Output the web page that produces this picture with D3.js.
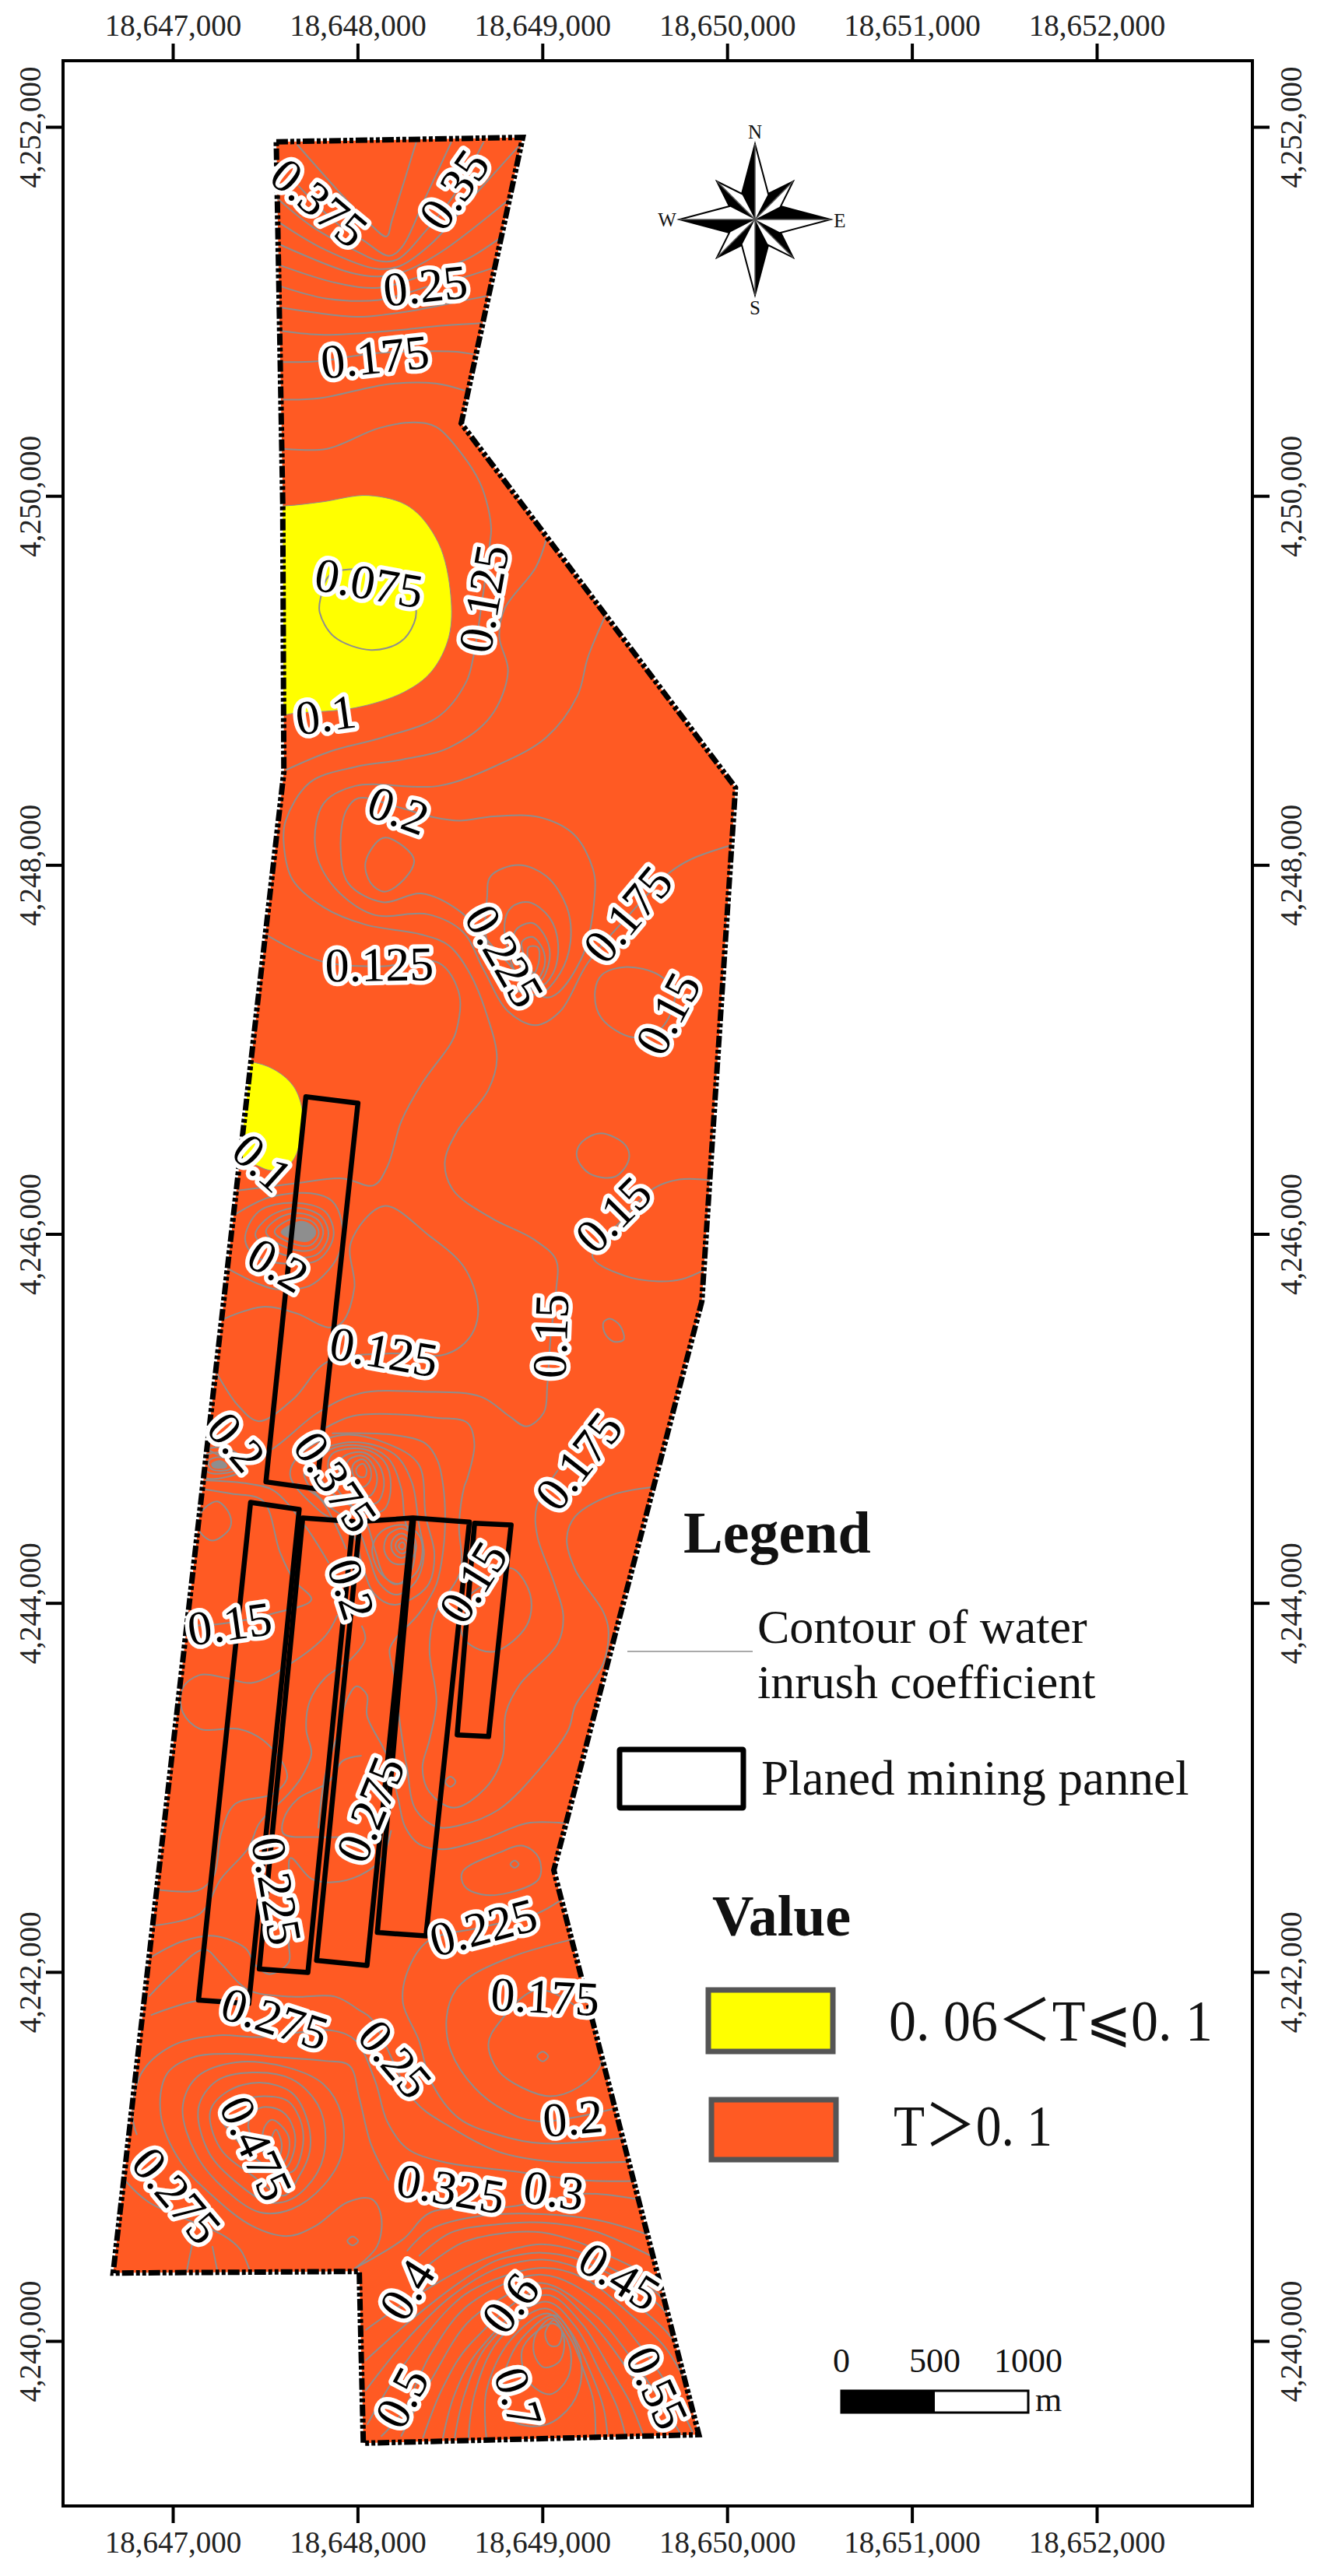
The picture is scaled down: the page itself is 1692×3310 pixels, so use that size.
<!DOCTYPE html>
<html>
<head>
<meta charset="utf-8">
<style>
  body { margin: 0; background: #fff; }
  text { font-family: "Liberation Serif", "Noto Sans CJK SC", serif; fill: #111; }
  .tick text { font-size: 39px; fill: #222; }
  .tick line, .domain { stroke: #000; stroke-width: 4px; }
  .contour { fill: none; stroke: #8e8e8e; stroke-width: 2px; }
  .panel { fill: none; stroke: #000; stroke-width: 6.5px; stroke-linejoin: round; }
  .clabel { font-size: 62px; text-anchor: middle; dominant-baseline: central; fill: #000;
            stroke: #fff; stroke-width: 11px; stroke-linejoin: round; paint-order: stroke; }
</style>
<script src="https://d3js.org/d3.v7.min.js"></script>
</head>
<body>
<script>
// map grid: all points are metres east of 18,647,000 and north of 4,240,000
var E0 = 18647000, N0 = 4240000;

var xTicks = [18647000, 18648000, 18649000, 18650000, 18651000, 18652000];
var yTicks = [4240000, 4242000, 4244000, 4246000, 4248000, 4250000, 4252000];

var boundary = [[560,11919],[1894,11943],[1561,10393],[3045,8419],[2863,5634],[2062,2552],[2847,-508],[1031,-554],[1009,377],[-323,368],[601,8503],[595,9960]];

var yellowNorth = [[400,9946],[609,9946],[806,9967],[1059,10002],[1283,9939],[1438,9744],[1504,9462],[1494,9236],[1400,9048],[1250,8936],[986,8851],[667,8823],[400,8804]];
var yellowWest = [[100,6931],[429,6931],[560,6884],[654,6799],[701,6668],[692,6517],[654,6404],[598,6350],[523,6345],[410,6385],[100,6385]];

var panels = [
  [[720,6743],[1002,6709],[778,4618],[504,4656]],
  [[421,4545],[684,4507],[411,1828],[139,1847]],
  [[703,4460],[975,4441],[731,1997],[468,2016]],
  [[1013,4441],[1295,4460],[1051,2035],[778,2063]],
  [[1304,4460],[1605,4438],[1370,2195],[1107,2214]],
  [[1633,4432],[1831,4423],[1709,3276],[1539,3285]]
];

// contour lines that run out to the boundary or into a label
var openContours = [
  [[672,11905],[890,11659],[1060,11480],[1157,11406],[1185,11490],[1318,11919]],
  [[1508,11919],[1367,11617],[1241,11350],[1171,11301],[1031,11385],[890,11476],[680,11680]],
  [[1683,11919],[1522,11631],[1367,11434],[1213,11280],[1115,11273],[988,11329],[750,11462],[560,11617]],
  [[574,11483],[820,11336],[1101,11231],[1227,11245],[1396,11364],[1634,11631],[1887,11912]],
  [[574,11364],[960,11210],[1115,11189],[1255,11217],[1452,11322],[1824,11610]],
  [[574,11252],[890,11153],[1115,11128],[1396,11210],[1599,11287],[1782,11406]],
  [[574,11139],[834,11069],[1115,11062],[1396,11139],[1613,11196],[1740,11238]],
  [[588,11020],[890,10978],[1031,10971],[1311,11006],[1592,11062],[1697,11083]],
  [[588,10894],[820,10873],[1171,10894],[1452,10922],[1669,10936]],
  [[595,10725],[778,10729],[1101,10774],[1410,10784],[1536,10781],[1627,10767]],
  [[595,10522],[792,10529],[1171,10606],[1424,10609],[1578,10571]],
  [[602,10255],[834,10255],[1115,10367],[1311,10398],[1424,10374],[1564,10227],[1662,10072],[1707,9932],[1723,9819],[1716,9744],[1673,9424],[1626,9124],[1588,8992],[1438,8804],[1137,8691],[855,8616],[610,8513]],
  [[2021,9763],[1964,9612],[1795,9387],[1767,9236],[1814,9048],[1720,8804],[1494,8635],[1231,8569],[987,8531],[742,8447],[611,8240],[601,8108],[648,7920],[817,7770],[1043,7676],[1344,7623],[1494,7563],[1607,7413],[1697,7195],[1754,6950],[1707,6780],[1538,6555],[1472,6386],[1519,6235],[1726,6085],[1951,5972],[2074,5859],[2074,5690],[2045,5446],[2027,5182],[2008,5032],[1914,4957],[1820,5013],[1669,5117],[1350,5145],[1011,5135],[786,5032],[523,4825],[353,4769],[165,4844]],
  [[507,7620],[799,7479],[1118,7450],[1438,7469],[1550,7300],[1532,7093],[1500,7025],[1350,6818],[1237,6611],[1162,6367],[1087,6263],[917,6301],[654,6273],[353,6235]],
  [[3026,8108],[2810,8033],[2688,7958],[2472,7732],[2246,7469],[2096,7206],[1964,7131],[1814,7206],[1682,7432],[1569,7638],[1381,7732],[1081,7732],[855,7902],[770,8108],[817,8334],[987,8428],[1438,8428],[1757,8541],[2021,8691],[2190,8917],[2246,9124],[2340,9349]],
  [[2910,6292],[2741,6295],[2600,6245],[2421,6066],[2271,5878],[2440,5775],[2628,5743],[2760,5756],[2873,5803]],
  [[278,5540],[485,5605],[673,5568],[842,5493],[917,5521],[983,5709],[964,5953],[1143,6151],[1387,5991],[1575,5822],[1651,5615],[1632,5483],[1557,5389],[1453,5342],[1162,5352],[833,5305],[654,5107],[466,4985],[353,5070],[231,5258]],
  [[335,6104],[523,6198],[748,6220],[861,6179],[914,6066],[908,5916],[842,5803],[739,5718],[560,5700],[466,5728],[297,5812]],
  [[823,4947],[974,5013],[1199,5023],[1425,5004],[1594,4976],[1632,4863],[1594,4675],[1577,4629],[1549,4423],[1558,4178],[1417,3934],[1389,3746],[1427,3464],[1389,3257],[1351,3107],[1389,2975],[1521,2890],[1690,2994],[1784,3163],[1803,3407],[1878,3558],[2085,3783],[2113,3934],[2066,4103],[1972,4366],[1970,4524],[2085,4720]],
  [[861,4919],[1199,4910],[1369,4863],[1434,4769],[1464,4629],[1474,4460],[1464,4291],[1427,4103],[1333,3943],[1201,3802],[1173,3746],[1201,3595],[1229,3351],[1267,3107],[1314,2881],[1427,2787],[1558,2796],[1765,2881],[1991,3107],[2141,3313],[2179,3445],[2329,3671],[2357,3859],[2329,3953],[2179,4178],[2132,4347],[2177,4468],[2365,4581],[2590,4627]],
  [[2122,2806],[1915,2806],[1690,2721],[1464,2665],[1333,2693],[1257,2787],[1220,2937],[1163,3163],[1051,3389],[1051,3501],[994,3548],[938,3464],[900,3313],[825,3069],[787,2778]],
  [[1022,3172],[919,3144],[844,3031],[675,2937],[599,2825],[599,2749],[787,2731],[900,2731]],
  [[-106,2251],[148,2317],[261,2505],[411,2674],[468,2806],[618,2956],[693,3050],[750,3182],[722,3313],[740,3464],[825,3595],[957,3689],[1041,3802],[1022,3877]],
  [[-106,2449],[139,2443],[223,2524],[261,2749],[336,2909],[543,2966],[618,3050],[599,3125],[487,3257],[355,3317],[148,3317],[54,3407],[54,3539],[148,3610],[280,3595],[430,3567],[637,3671],[825,3821],[891,3934]],
  [[-115,2082],[54,2167],[223,2195],[393,2129],[449,2035],[524,1988],[628,2054],[628,2148],[637,2411],[637,2618],[750,2505],[863,2486],[1013,2524],[1126,2608],[1182,2768]],
  [[-130,1866],[-1,1994],[171,2122],[257,2049],[408,1903],[644,1866],[880,1866],[1009,1793],[1074,1747],[1310,1300],[1482,1172],[1761,1026],[2062,971],[2460,971]],
  [[148,4620],[317,4592],[487,4554],[581,4272],[656,4122],[750,4018],[543,3943],[261,3887],[35,3877]],
  [[175,4665],[410,4646],[543,4611],[712,4423],[844,4216]],
  [[675,4648],[806,4554],[938,4291]],
  [[2103,2392],[1972,2317],[1671,2242],[1380,2167],[1267,1994],[1246,1830],[1332,1629],[1396,1409],[1547,1208],[1761,1117],[1998,1071],[2428,1099]],
  [[2406,1263],[1976,1190],[1804,1245],[1633,1373],[1504,1574],[1482,1756],[1530,1900],[1615,1979],[1859,2091],[2160,2176]],
  [[-119,1766],[107,1839],[257,1850]],
  [[-194,1117],[-216,1208],[-173,1446],[-1,1601],[236,1656],[472,1647],[859,1683],[988,1629],[1095,1409],[1160,1190],[1267,1044],[1461,971],[1869,916],[2223,871],[2492,867]],
  [[977,387],[1106,514],[1127,679],[1074,770],[945,752],[773,624],[623,569],[429,624],[214,788],[42,971],[-65,1227],[-33,1446],[107,1537],[343,1556],[580,1537],[816,1519],[956,1492],[1009,1318],[1074,1062],[1170,871]],
  [[-259,871],[-130,752],[279,569],[365,496],[418,377]],
  [[107,533],[75,377]],
  [[214,514],[242,377]],
  [[988,396],[1246,551],[1396,697],[1794,724],[1976,752],[2234,798],[2503,770]],
  [[1267,487],[1396,606],[1675,679],[1998,688],[2320,651],[2567,578]],
  [[1332,460],[1504,587],[1762,633],[1998,642],[2277,597],[2610,450]],
  [[1375,405],[1568,533],[1826,588],[1998,588],[2202,533],[2406,441],[2664,314]],
  [[1042,58],[1117,113],[1461,332],[1676,441],[1869,505],[1998,524],[2191,487],[2385,387],[2621,259],[2686,167]],
  [[1042,-107],[1289,113],[1547,314],[1740,432],[1890,469],[1998,478],[2170,450],[2406,341],[2621,204],[2729,76]],
  [[1042,-271],[1246,-15],[1504,240],[1762,396],[1998,441],[2191,396],[2471,222],[2664,58],[2771,-88]],
  [[1052,-454],[1203,-198],[1504,186],[1654,295],[1998,396],[2224,341],[2471,149],[2664,-34],[2782,-234]],
  [[1127,-518],[1246,-381],[1396,-70],[1611,204],[1998,359],[2320,204],[2535,-34],[2707,-289],[2815,-499]],
  [[1235,-518],[1396,-216],[1590,94],[1762,222],[1998,314],[2277,149],[2492,-107],[2664,-362],[2750,-508]],
  [[1353,-527],[1461,-253],[1611,-15],[2019,286],[2234,131],[2428,-107],[2557,-326],[2632,-508]],
  [[1461,-527],[1525,-289],[1654,-52],[2019,250],[2213,94],[2363,-143],[2471,-326],[2546,-508]],
  [[1525,-527],[1579,-289],[1708,-15],[2019,213],[2180,76],[2309,-161],[2406,-362],[2449,-508]],
  [[1600,-527],[1633,-289],[1762,3],[2019,176],[2148,58],[2266,-180],[2331,-362],[2352,-508]],
  [[1697,-527],[1697,-271],[1826,3],[2030,149],[2148,21],[2224,-161],[2277,-326],[2288,-508]]
];

// contours that close on themselves
var closedContours = [
  [[1005,8362],[939,8296],[908,8108],[949,7902],[1137,7798],[1344,7845],[1550,7751],[1795,7488],[2030,7281],[2209,7488],[2284,7845],[2274,7977],[2171,8165],[1983,8259],[1738,8263],[1550,8240],[1410,8259],[1212,8315]],
  [[1137,8146],[1043,8014],[1071,7902],[1146,7855],[1250,7920],[1306,8024],[1250,8099]],
  [[1701,7826],[1720,7939],[1870,7999],[2021,7939],[2133,7770],[2152,7582],[2096,7413],[1983,7300],[1833,7338],[1701,7582]],
  [[1795,7676],[1833,7770],[1926,7798],[2039,7714],[2086,7563],[2058,7413],[1983,7338],[1870,7394]],
  [[1851,7638],[1945,7685],[2021,7601],[2039,7488],[1983,7366],[1889,7432]],
  [[1889,7582],[1945,7610],[2002,7544],[2011,7450],[1964,7375],[1917,7469]],
  [[1926,7554],[1974,7554],[1983,7488],[1955,7413],[1926,7469]],
  [[2631,7403],[2453,7447],[2321,7403],[2284,7300],[2321,7168],[2491,7065],[2641,7112],[2716,7300]],
  [[799,9443],[795,9368],[874,9236],[1071,9165],[1231,9208],[1306,9312],[1316,9387],[1269,9500],[1081,9594],[855,9575]],
  [[2318,6545],[2450,6480],[2468,6404],[2393,6310],[2252,6329],[2186,6423],[2214,6498]],
  [[2365,5540],[2421,5502],[2440,5427],[2384,5417],[2337,5464],[2331,5521]],
  // peak below the northern panel
  [[391,5972],[466,6122],[654,6169],[823,6122],[870,5991],[786,5859],[598,5840],[447,5878]],
  [[447,5991],[523,6094],[673,6141],[804,6094],[842,5991],[776,5887],[598,5887]],
  [[504,6010],[570,6085],[682,6113],[786,6075],[814,6000],[758,5916],[617,5925]],
  [[551,6010],[607,6066],[692,6085],[767,6057],[790,6000],[744,5938],[635,5953]],
  [[588,6010],[635,6047],[701,6066],[758,6038],[771,6000],[733,5963],[654,5972]],
  [[626,6010],[673,6034],[720,6043],[748,6010],[729,5976],[664,5981]],
  [[664,6010],[711,6025],[733,6006],[711,5987]],
  // small peak on the west edge
  [[147,4806],[241,4844],[353,4806],[391,4731],[297,4684],[165,4684]],
  [[165,4788],[241,4816],[325,4788],[353,4731],[278,4703],[184,4712]],
  [[194,4769],[250,4791],[306,4769],[316,4731],[259,4716],[203,4731]],
  [[212,4754],[256,4769],[288,4750],[288,4735],[256,4731],[222,4735]],
  // twin peaks under the 0.375 label
  [[711,4825],[917,4910],[1162,4863],[1331,4750],[1369,4468],[1416,4261],[1378,4092],[1201,3990],[1087,4054],[1021,4224],[974,4374],[786,4506],[635,4694]],
  [[767,4806],[974,4872],[1199,4806],[1293,4656],[1331,4430],[1359,4261],[1312,4111],[1209,4045],[1115,4111],[1058,4261],[993,4412],[823,4543],[711,4694]],
  [[842,4825],[1011,4853],[1162,4788],[1237,4618],[1256,4449],[1312,4280],[1275,4148],[1209,4101],[1143,4148],[1096,4280],[1030,4468],[861,4600],[786,4712]],
  [[861,4806],[1030,4835],[1143,4769],[1180,4637],[1143,4506],[1030,4487],[917,4581],[842,4712]],
  [[917,4788],[1030,4816],[1115,4750],[1143,4637],[1105,4543],[1030,4543],[955,4618],[899,4712]],
  [[955,4778],[1030,4797],[1087,4741],[1105,4656],[1068,4581],[1011,4590],[964,4656],[936,4722]],
  [[983,4759],[1030,4778],[1068,4731],[1068,4665],[1030,4628],[992,4665],[970,4722]],
  [[1002,4741],[1030,4754],[1049,4722],[1040,4684],[1011,4684],[992,4712]],
  [[1248,4423],[1333,4366],[1351,4272],[1314,4159],[1220,4103],[1126,4159],[1079,4291],[1126,4385]],
  [[1242,4404],[1304,4357],[1314,4282],[1267,4216],[1192,4216],[1145,4282],[1163,4366]],
  [[1242,4376],[1286,4338],[1286,4282],[1242,4244],[1201,4263],[1182,4310],[1201,4357]],
  [[1242,4351],[1272,4325],[1267,4282],[1239,4268],[1210,4291],[1210,4329]],
  [[1244,4329],[1257,4310],[1248,4291],[1229,4295],[1224,4314]],
  // middle of the panels
  [[1831,4188],[1934,4047],[1915,3877],[1737,3736],[1596,3783],[1558,3859],[1577,4009],[1690,4103]],
  [[1502,3059],[1530,3031],[1502,3003],[1474,3031]],
  [[242,4550],[308,4479],[308,4404],[214,4338],[148,4385],[139,4460],[186,4526]],
  [[1765,2646],[1897,2684],[1981,2618],[1981,2505],[1821,2430],[1671,2420],[1577,2467],[1568,2543]],
  [[1850,2603],[1872,2584],[1850,2565],[1827,2584]],
  // 0.475 peak
  [[53,1263],[128,1428],[343,1510],[623,1482],[816,1391],[913,1227],[913,1008],[816,843],[644,715],[472,697],[279,825],[128,1008]],
  [[139,1263],[236,1409],[429,1455],[644,1419],[784,1282],[827,1099],[784,916],[644,770],[515,752],[343,861],[193,1026]],
  [[203,1245],[300,1355],[472,1400],[644,1345],[730,1190],[741,1026],[687,898],[601,788],[429,898],[257,1044]],
  [[257,1227],[365,1300],[494,1327],[623,1300],[698,1172],[698,1026],[644,916],[472,971],[322,1117]],
  [[472,1263],[590,1245],[655,1145],[655,1026],[601,934],[472,1044],[408,1172]],
  [[537,1199],[623,1117],[623,1008],[580,953],[494,1044],[494,1154]],
  [[558,1145],[590,1062],[569,989],[526,1044]],
  [[973,566],[1003,542],[973,518],[945,542]],
  [[1976,1903],[2277,1720],[2320,1510],[2191,1373],[2041,1327],[1890,1373],[1762,1464],[1708,1610],[1762,1720]],
  [[2002,1568],[2032,1543],[2002,1515],[1972,1543]],
  // south peak
  [[2062,140],[2181,-15],[2213,-180],[2159,-344],[2019,-454],[1847,-435],[1783,-271],[1826,-88],[1912,39]],
  [[2062,94],[2148,-33],[2138,-198],[2041,-289],[1923,-216],[1890,-52],[1955,39]],
  [[2052,122],[2116,21],[2095,-107],[2009,-143],[1955,-70],[1966,39]],
  [[2062,113],[2106,49],[2084,-24],[2041,-24],[2015,40]]
];

// the grey blot where contours pile up
var denseSpots = [
  [[588,6010],[635,6047],[701,6066],[758,6038],[771,6000],[733,5963],[654,5972]],
  [[212,4754],[256,4769],[288,4750],[288,4735],[256,4731],[222,4735]]
];

// text, east, north, rotation
var contourLabels = [
  ["0.375",792,11589,40],["0.35",1522,11659,-55],["0.25",1367,11139,-6],["0.175",1094,10753,-6],
  ["0.075",1062,9528,10],["0.125",1682,9443,-80],["0.1",827,8813,-8],["0.2",1221,8296,20],
  ["0.225",1795,7507,60],["0.175",2462,7732,-50],["0.15",2679,7194,-62],["0.125",1118,7460,-1],
  ["0.1",485,6386,42],["0.2",570,5831,30],["0.125",1143,5361,10],["0.15",2045,5446,-88],
  ["0.15",2384,6104,-45],["0.2",344,4872,50],["0.375",880,4656,56],["0.175",2196,4769,-52],
  ["0.15",308,3887,-8],["0.2",966,4075,72],["0.15",1624,4112,-58],["0.275",1069,2881,-68],
  ["0.225",562,2439,80],["0.225",1680,2242,-15],["0.175",2015,1866,3],["0.275",552,1747,18],
  ["0.25",1203,1528,50],["0.2",2165,1208,-5],["0.475",451,1044,65],["0.275",21,788,50],
  ["0.325",1504,825,10],["0.3",2062,816,8],["0.45",2417,350,32],["0.4",1267,277,-58],
  ["0.6",1826,204,-52],["0.5",1239,-307,-62],["0.7",1869,-307,72],["0.55",2621,-253,65]
];

var legendColors = ["#ffff00", "#ff5a23"];
var legendClasses = ["0. 06＜T⩽0. 1", "T＞0. 1"];
var scaleBarLabels = [0, 500, 1000];

// compass rose outline, clockwise from north, and the inner corner that makes each ray's dark half
var roseTips = [[0,-97],[49,-49],[97,0],[49,49],[0,97],[-49,49],[-97,0],[-49,-49]];
var roseRight = [[17,-33],[33,-17],[33,17],[17,33],[-17,33],[-33,17],[-33,-17],[-17,-33]];
var roseDark = [[-17,-33],[17,-33],[33,-17],[33,17],[17,33],[-17,33],[-33,17],[-33,-17]];
var roseLetters = [["N",0,-113],["E",109,1],["S",0,113],["W",-113,0]];

var width = 1692, height = 3310;
var frame = {left: 81, right: 1609, top: 78, bottom: 3220};

var svg = d3.select("body").append("svg").attr("width", width).attr("height", height);

var x = d3.scaleLinear().domain([18647000, 18652000]).range([222, 1409]);
var y = d3.scaleLinear().domain([4240000, 4252000]).range([3008, 163]);

var toPath = d3.line().x(function(d) { return x(E0 + d[0]); }).y(function(d) { return y(N0 + d[1]); });
function smooth(pts) { return toPath.curve(d3.curveCatmullRom.alpha(0.5))(pts); }
function smoothClosed(pts) { return toPath.curve(d3.curveCatmullRomClosed.alpha(0.5))(pts); }
function straightClosed(pts) { return toPath.curve(d3.curveLinearClosed)(pts); }

// frame and graticule ticks
svg.append("rect").attr("x", frame.left).attr("y", frame.top)
  .attr("width", frame.right - frame.left).attr("height", frame.bottom - frame.top)
  .attr("fill", "none").attr("stroke", "#000").attr("stroke-width", 4);

var fmt = d3.format(",");
svg.append("g").attr("transform", "translate(0," + frame.top + ")")
  .call(d3.axisTop(x).tickValues(xTicks).tickFormat(fmt).tickSize(22).tickSizeOuter(0).tickPadding(10))
  .select(".domain").remove();
svg.append("g").attr("transform", "translate(0," + frame.bottom + ")")
  .call(d3.axisBottom(x).tickValues(xTicks).tickFormat(fmt).tickSize(22).tickSizeOuter(0).tickPadding(10))
  .select(".domain").remove();

var leftAxis = svg.append("g").attr("transform", "translate(" + frame.left + ",0)")
  .call(d3.axisLeft(y).tickValues(yTicks).tickFormat(fmt).tickSize(22).tickSizeOuter(0));
leftAxis.select(".domain").remove();
leftAxis.selectAll("text").attr("transform", "rotate(-90)").attr("x", 0).attr("y", -29).attr("dy", 0).attr("text-anchor", "middle");

var rightAxis = svg.append("g").attr("transform", "translate(" + frame.right + ",0)")
  .call(d3.axisRight(y).tickValues(yTicks).tickFormat(fmt).tickSize(22).tickSizeOuter(0));
rightAxis.select(".domain").remove();
rightAxis.selectAll("text").attr("transform", "rotate(-90)").attr("x", 0).attr("y", 63).attr("dy", 0).attr("text-anchor", "middle");

// study area
svg.append("clipPath").attr("id", "area").append("path").attr("d", straightClosed(boundary));
var map = svg.append("g").attr("clip-path", "url(#area)");

map.append("path").attr("d", straightClosed(boundary)).attr("fill", legendColors[1]);
map.selectAll(".zone").data([yellowNorth, yellowWest]).enter().append("path")
  .attr("class", "zone").attr("d", smoothClosed)
  .attr("fill", legendColors[0]).attr("stroke", "#8e8e8e").attr("stroke-width", 1);

map.selectAll(".open").data(openContours).enter().append("path")
  .attr("class", "contour open").attr("d", smooth);
map.selectAll(".closed").data(closedContours).enter().append("path")
  .attr("class", "contour closed").attr("d", smoothClosed);
map.selectAll(".spot").data(denseSpots).enter().append("path")
  .attr("class", "spot").attr("d", smoothClosed).attr("fill", "#8e8e8e");

svg.selectAll(".panel").data(panels).enter().append("path")
  .attr("class", "panel").attr("d", straightClosed);

svg.append("path").attr("d", straightClosed(boundary))
  .attr("fill", "none").attr("stroke", "#000").attr("stroke-width", 7)
  .attr("stroke-dasharray", "15 3 5 3 5 3");

svg.selectAll(".clabel").data(contourLabels).enter().append("text")
  .attr("class", "clabel")
  .attr("transform", function(d) { return "translate(" + x(E0 + d[1]) + "," + y(N0 + d[2]) + ") rotate(" + d[3] + ")"; })
  .text(function(d) { return d[0]; });

// compass rose
var rose = svg.append("g").attr("transform", "translate(970,282)");
var star = [];
roseTips.forEach(function(t, i) { star.push(t); star.push(roseRight[i]); });
rose.append("polygon").attr("points", star.join(" "))
  .attr("fill", "#fff").attr("stroke", "#000").attr("stroke-width", 2).attr("stroke-linejoin", "miter");
rose.selectAll(".ray").data(roseTips).enter().append("polygon")
  .attr("class", "ray")
  .attr("points", function(t, i) { return [[0, 0], t, roseDark[i]].join(" "); })
  .attr("fill", "#000");
rose.selectAll(".spoke").data(roseTips).enter().append("line")
  .attr("class", "spoke").attr("x2", function(t) { return t[0]; }).attr("y2", function(t) { return t[1]; })
  .attr("stroke", "#555").attr("stroke-width", 1.5);
rose.selectAll(".letter").data(roseLetters).enter().append("text")
  .attr("class", "letter")
  .attr("x", function(d) { return d[1]; }).attr("y", function(d) { return d[2]; })
  .attr("text-anchor", "middle").attr("dominant-baseline", "central")
  .attr("font-size", 25)
  .text(function(d) { return d[0]; });

// legend
function legendText(str, px, py, size, bold, fit) {
  var t = svg.append("text").attr("x", px).attr("y", py).attr("font-size", size)
    .attr("font-weight", bold ? "bold" : "normal").text(str);
  if (fit) t.attr("textLength", fit).attr("lengthAdjust", "spacingAndGlyphs");
  return t;
}
legendText("Legend", 878, 1995, 76, true);
legendText("Contour of water", 973, 2111, 62);
legendText("inrush coefficient", 973, 2182, 62);
svg.append("line").attr("x1", 806).attr("x2", 967).attr("y1", 2122).attr("y2", 2122)
  .attr("stroke", "#aaa").attr("stroke-width", 2);
svg.append("rect").attr("x", 796).attr("y", 2248).attr("width", 159).attr("height", 75)
  .attr("fill", "#fff").attr("stroke", "#000").attr("stroke-width", 7).attr("rx", 1);
legendText("Planed mining pannel", 978, 2306, 63);
legendText("Value", 915, 2487, 74, true);

var swatchBoxes = [[910, 2557, 160, 79], [914, 2698, 160, 77]];
svg.selectAll(".swatch").data(legendColors).enter().append("rect")
  .attr("class", "swatch")
  .attr("x", function(d, i) { return swatchBoxes[i][0]; })
  .attr("y", function(d, i) { return swatchBoxes[i][1]; })
  .attr("width", function(d, i) { return swatchBoxes[i][2]; })
  .attr("height", function(d, i) { return swatchBoxes[i][3]; })
  .attr("fill", function(d) { return d; })
  .attr("stroke", "#555").attr("stroke-width", 7);
legendText(legendClasses[0], 1142, 2622, 74, false, 416);
legendText(legendClasses[1], 1148, 2757, 74, false, 204);

// scale bar
var barX = d3.scaleLinear().domain([0, 1000]).range([1081, 1321]);
svg.append("rect").attr("x", barX(0)).attr("y", 3072).attr("width", barX(1000) - barX(0)).attr("height", 28)
  .attr("fill", "#fff").attr("stroke", "#000").attr("stroke-width", 3);
svg.append("rect").attr("x", barX(0)).attr("y", 3072).attr("width", barX(500) - barX(0)).attr("height", 28)
  .attr("fill", "#000");
svg.selectAll(".barLabel").data(scaleBarLabels).enter().append("text")
  .attr("class", "barLabel").attr("x", function(d) { return barX(d); }).attr("y", 3048)
  .attr("text-anchor", "middle").attr("font-size", 44).text(function(d) { return d; });
legendText("m", 1330, 3098, 44);
</script>
</body>
</html>
